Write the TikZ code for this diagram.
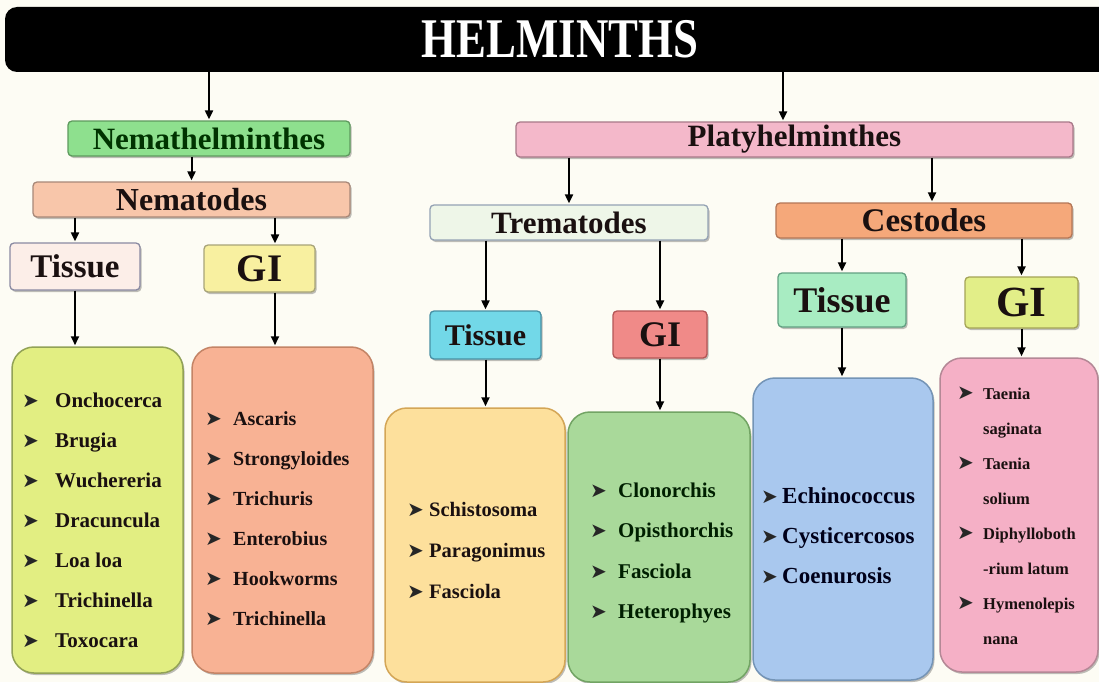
\documentclass[tikz,border=0pt]{standalone}
\usepackage{fontspec}
\setmainfont{Liberation Serif}
\newfontfamily\bulf{DejaVu Sans}
\newfontfamily\condf[FakeStretch=0.8]{Liberation Serif}
\usetikzlibrary{arrows.meta,shadows}
\newlength\bw
\newcommand\bul{{\bulf\fontsize{20}{20}\selectfont\color{black!85}➤}}
\newcommand\bi{\makebox[\bw][l]{\bul}}
\newcommand\ci{\hspace*{\bw}}
\definecolor{bgc}{HTML}{FDFCF4}
\definecolor{txt}{HTML}{1A1010}
\definecolor{cNema}{HTML}{8EE08E}\definecolor{dNema}{HTML}{5E9A5E}
\definecolor{cNemd}{HTML}{F8C6AA}\definecolor{dNemd}{HTML}{A88878}
\definecolor{cTa}{HTML}{FCEEE8}\definecolor{dTa}{HTML}{8A8AA2}
\definecolor{cGa}{HTML}{F8F0A0}\definecolor{dGa}{HTML}{A8A478}
\definecolor{cPla}{HTML}{F4B8CA}\definecolor{dPla}{HTML}{A87888}
\definecolor{cTre}{HTML}{EEF6E8}\definecolor{dTre}{HTML}{94A2B4}
\definecolor{cCes}{HTML}{F5A87A}\definecolor{dCes}{HTML}{B47656}
\definecolor{cTb}{HTML}{72D8E8}\definecolor{dTb}{HTML}{4890A4}
\definecolor{cGb}{HTML}{F08A88}\definecolor{dGb}{HTML}{B45656}
\definecolor{cTc}{HTML}{A8ECC2}\definecolor{dTc}{HTML}{62A082}
\definecolor{cGc}{HTML}{E2EE88}\definecolor{dGc}{HTML}{A4A456}
\definecolor{cB1}{HTML}{E2EE82}\definecolor{dB1}{HTML}{92A256}
\definecolor{cB2}{HTML}{F8B294}\definecolor{dB2}{HTML}{C48466}
\definecolor{cB3}{HTML}{FDE09C}\definecolor{dB3}{HTML}{D4A656}
\definecolor{cB4}{HTML}{A9D99A}\definecolor{dB4}{HTML}{72A464}
\definecolor{cB5}{HTML}{A9C8EE}\definecolor{dB5}{HTML}{7494B6}
\definecolor{cB6}{HTML}{F5B0C6}\definecolor{dB6}{HTML}{B48896}
\tikzset{
  shd/.style={drop shadow={shadow xshift=1.5pt,shadow yshift=-2pt,opacity=0.25,fill=black}},
  hbox/.style 2 args={draw=#2, fill=#1, rounded corners=4pt, line width=1.3pt,
    inner sep=0pt, text=txt, shd},
  lbox/.style 2 args={draw=#2, fill=#1, rounded corners=22pt, line width=1.5pt,
    inner sep=0pt, shd},
  ltext/.style={anchor=west, inner sep=0pt, align=left, text=txt},
  arr/.style={-{Triangle[length=9pt,width=8pt]}, line width=2pt, shorten >=1pt},
  hfont/.style={font=\fontsize{31}{31}\selectfont\bfseries},
}
\begin{document}
\begin{tikzpicture}[x=1pt,y=-1pt]
\useasboundingbox (0,0) rectangle (1099,682);
\fill[bgc] (0,0) rectangle (1099,682);
% header bar
\node[fill=black, rounded corners=12pt, minimum width=1110pt, minimum height=65pt, inner sep=0pt,
  text=white, font=\condf\fontsize{56}{56}\selectfont\bfseries] (helm) at (560,39.5) {HELMINTHS};
% level 1
\node[hbox={cNema}{dNema}, hfont, minimum width=282pt, minimum height=35pt, text=black!80!green] (nema) at (209,138.5) {Nemathelminthes};
\node[hbox={cPla}{dPla}, hfont, minimum width=557pt, minimum height=35pt] (platy) at (794.5,139.5) {Platyhelminthes};
% level 2
\node[hbox={cNemd}{dNemd}, hfont, minimum width=317pt, minimum height=35pt, font=\fontsize{32}{32}\selectfont\bfseries] (nemd) at (191.5,199.5) {Nematodes};
\node[hbox={cTre}{dTre}, hfont, minimum width=278pt, minimum height=35pt] (trem) at (569,222.5) {Trematodes};
\node[hbox={cCes}{dCes}, hfont, minimum width=296pt, minimum height=35pt, font=\fontsize{33}{33}\selectfont\bfseries] (cest) at (924,220.5) {Cestodes};
% level 3
\node[hbox={cTa}{dTa}, minimum width=130pt, minimum height=47pt, font=\fontsize{33}{33}\selectfont\bfseries] (ta) at (75,266.5) {Tissue};
\node[hbox={cGa}{dGa}, minimum width=111pt, minimum height=47pt, font=\fontsize{39}{39}\selectfont\bfseries] (ga) at (259.5,268.5) {GI};
\node[hbox={cTb}{dTb}, minimum width=111pt, minimum height=48pt, font=\fontsize{30}{30}\selectfont\bfseries] (tb) at (485.5,335) {Tissue};
\node[hbox={cGb}{dGb}, minimum width=94pt, minimum height=47pt, font=\fontsize{36}{36}\selectfont\bfseries] (gb) at (660,334.5) {GI};
\node[hbox={cTc}{dTc}, minimum width=128pt, minimum height=54pt, font=\fontsize{36}{36}\selectfont\bfseries] (tc) at (842,300) {Tissue};
\node[hbox={cGc}{dGc}, minimum width=113pt, minimum height=51pt, font=\fontsize{43}{43}\selectfont\bfseries] (gc) at (1021.5,302.5) {GI};
% list boxes
\node[lbox={cB1}{dB1}, minimum width=171pt, minimum height=326pt] (b1) at (97.5,510) {};
\node[lbox={cB2}{dB2}, minimum width=181pt, minimum height=326pt] (b2) at (282.5,510) {};
\node[lbox={cB3}{dB3}, minimum width=180pt, minimum height=274pt] (b3) at (475,545) {};
\node[lbox={cB4}{dB4}, minimum width=182pt, minimum height=270pt] (b4) at (659,547) {};
\node[lbox={cB5}{dB5}, minimum width=180pt, minimum height=302pt] (b5) at (843,529) {};
\node[lbox={cB6}{dB6}, minimum width=158pt, minimum height=314pt] (b6) at (1019,515) {};
% lists
\node[ltext, font=\fontsize{21}{40}\selectfont\bfseries\setlength\bw{33pt}] (l1) at (22,520)
  {\bi Onchocerca\\ \bi Brugia\\ \bi Wuchereria\\ \bi Dracuncula\\ \bi Loa loa\\ \bi Trichinella\\ \bi Toxocara};
\node[ltext, font=\fontsize{20}{40}\selectfont\bfseries\setlength\bw{28pt}] (l2) at (205,519)
  {\bi Ascaris\\ \bi Strongyloides\\ \bi Trichuris\\ \bi Enterobius\\ \bi Hookworms\\ \bi Trichinella};
\node[ltext, font=\fontsize{20.5}{41}\selectfont\bfseries\setlength\bw{22pt}] (l3) at (407,550)
  {\bi Schistosoma\\ \bi Paragonimus\\ \bi Fasciola};
\node[ltext, font=\fontsize{21}{40.5}\selectfont\bfseries\setlength\bw{28pt}, text=black!88!green] (l4) at (590,553)
  {\bi Clonorchis\\ \bi Opisthorchis\\ \bi Fasciola\\ \bi Heterophyes};
\node[ltext, font=\fontsize{23}{40}\selectfont\bfseries\setlength\bw{21pt}, text=black!90!blue] (l5) at (761,536)
  {\bi Echinococcus\\ \bi Cysticercosos\\ \bi Coenurosis};
\node[ltext, font=\fontsize{16.5}{35}\selectfont\bfseries\setlength\bw{26pt}] (l6) at (957,516)
  {\bi Taenia\\ \ci saginata\\ \bi Taenia\\ \ci solium\\ \bi Diphylloboth\\ \ci -rium latum\\ \bi Hymenolepis\\ \ci nana};
% connectors
\coordinate (pa) at ([xshift=-11.5pt]platy.north);
\coordinate (gx) at ([xshift=15.5pt]ga.north);
\coordinate (cx) at ([xshift=8pt]cest.north);
\draw[arr] (helm.south -| nema.north) -- (nema.north);
\draw[arr] (helm.south -| pa) -- (pa);
\draw[arr] (nema.south -| nemd.north) -- (nemd.north);
\draw[arr] (nemd.south -| ta.north) -- (ta.north);
\draw[arr] (nemd.south -| gx) -- (gx);
\draw[arr] (ta.south) -- (ta.south |- b1.north);
\draw[arr] (gx |- ga.south) -- (gx |- b2.north);
\draw[arr] (platy.south -| trem.north) -- (trem.north);
\draw[arr] (platy.south -| cx) -- (cx);
\draw[arr] (trem.south -| tb.north) -- (tb.north);
\draw[arr] (trem.south -| gb.north) -- (gb.north);
\draw[arr] (tb.south) -- (tb.south |- b3.north);
\draw[arr] (gb.south) -- (gb.south |- b4.north);
\draw[arr] (cest.south -| tc.north) -- (tc.north);
\draw[arr] (cest.south -| gc.north) -- (gc.north);
\draw[arr] (tc.south) -- (tc.south |- b5.north);
\draw[arr] (gc.south) -- (gc.south |- b6.north);
\end{tikzpicture}
\end{document}
